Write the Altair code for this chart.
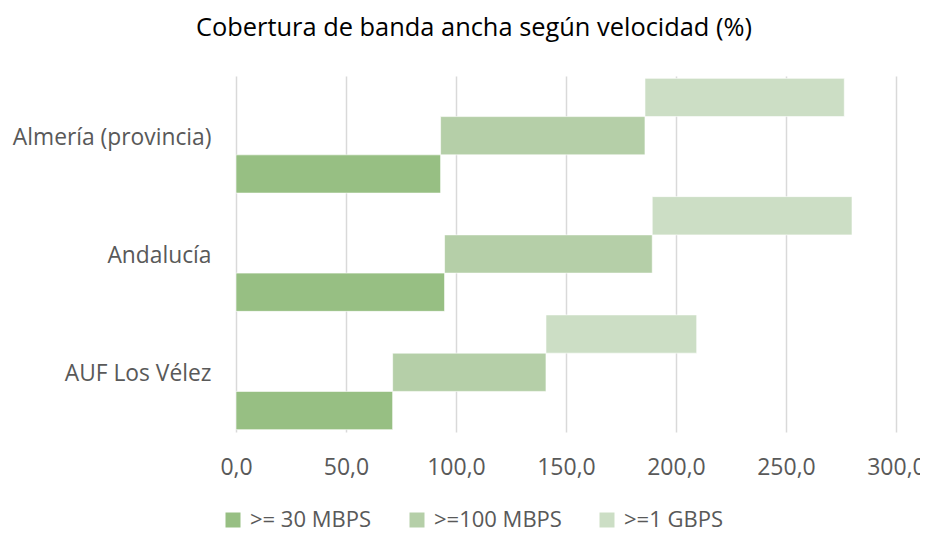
import altair as alt
import pandas as pd

categories = ["Almería (provincia)", "Andalucía", "AUF Los Vélez"]
series = [">= 30 MBPS", ">=100 MBPS", ">=1 GBPS"]
colors = ["#97BF83", "#B5CFA8", "#CCDEC5"]
v30 = [93.0, 94.8, 71.2]
v100 = [92.9, 94.4, 69.7]
v1g = [90.6, 90.8, 68.5]

rows = []
for i, c in enumerate(categories):
    for j, (s, vals) in enumerate(zip(series, [v30, v100, v1g])):
        rows.append({"cat": c, "serie": s, "ord": j, "value": vals[i]})
df = pd.DataFrame(rows)

FONT = "Open Sans"
GREY = "#595959"

base = alt.Chart(df).transform_window(
    end="sum(value)", sort=[alt.SortField("ord")], groupby=["cat"],
    frame=[None, 0]
).transform_calculate(start="datum.end - datum.value")

bars = base.mark_bar(stroke="#ffffff", strokeWidth=1, strokeOpacity=0.6).encode(
    y=alt.Y("cat:N", sort=categories, title=None,
            scale=alt.Scale(paddingInner=0.03, paddingOuter=0.02),
            axis=alt.Axis(ticks=False, domain=False, labelFontSize=22.8, labelColor=GREY,
                          labelFont=FONT, labelPadding=25, labelLimit=300, labelOffset=2)),
    yOffset=alt.YOffset("serie:N", sort=list(reversed(series)),
                        scale=alt.Scale(paddingInner=0, paddingOuter=0)),
    x=alt.X("start:Q", title=None,
            scale=alt.Scale(domain=[0, 300], nice=False),
            axis=alt.Axis(values=[0, 50, 100, 150, 200, 250, 300], ticks=False, domain=False,
                          grid=True, gridColor="#D9D9D9", gridWidth=1.5, labelFlush=False,
                          labelExpr="replace(format(datum.value, '.1f'), '.', ',')",
                          labelFontSize=23, labelColor=GREY, labelFont=FONT, labelPadding=24)),
    x2="end:Q",
    color=alt.Color("serie:N", sort=series,
                    scale=alt.Scale(domain=series, range=colors),
                    legend=alt.Legend(title=None, orient="none", direction="horizontal",
                                      legendX=-14, legendY=433, symbolType="square",
                                      symbolSize=225, symbolStrokeWidth=0,
                                      labelFontSize=22, labelColor=GREY, labelFont=FONT,
                                      columnPadding=34, symbolOffset=0, labelOffset=6)),
)

chart = bars.properties(
    width=660, height=356,
    title=alt.TitleParams("Cobertura de banda ancha según velocidad (%)", fontSize=25.4,
                          font=FONT, fontWeight="normal", color="#000000",
                          anchor="middle", frame="group", dx=-92, offset=35),
    padding={"left": 228, "top": 68, "right": 24, "bottom": 100},
    autosize=alt.AutoSizeParams(type="none"),
).configure(background="white").configure_view(stroke=None, strokeWidth=0)

chart.save("out.html", embed_options={"renderer": "svg", "actions": False})
